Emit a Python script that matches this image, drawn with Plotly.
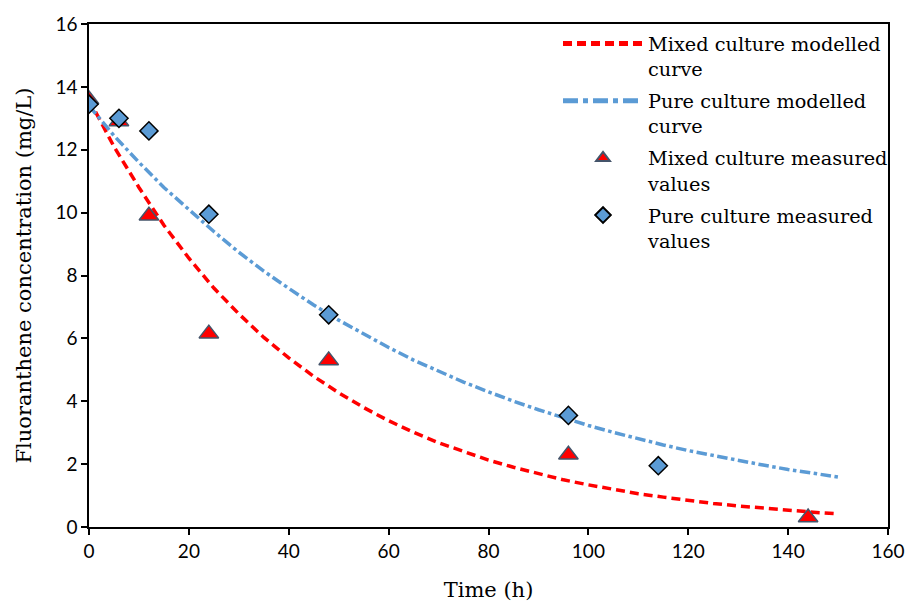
import plotly.graph_objects as go

# Modelled curves
model_time = [0, 5, 10, 15, 20, 25, 30, 35, 40, 45, 50, 55, 60, 65, 70, 75, 80, 85, 90,
              95, 100, 105, 110, 115, 120, 125, 130, 135, 140, 145, 150]
mixed_model = [13.6, 12.1, 10.8, 9.6, 8.55, 7.6, 6.78, 6.03, 5.38, 4.79, 4.27, 3.8, 3.38,
               3.01, 2.68, 2.39, 2.13, 1.9, 1.69, 1.5, 1.34, 1.19, 1.06, 0.95, 0.84,
               0.75, 0.67, 0.6, 0.53, 0.47, 0.42]
pure_model = [13.4, 12.45, 11.6, 10.8, 10.1, 9.4, 8.74, 8.14, 7.59, 7.06, 6.58, 6.13, 5.71,
              5.31, 4.95, 4.61, 4.3, 4.0, 3.73, 3.47, 3.23, 3.01, 2.8, 2.61, 2.43,
              2.27, 2.11, 1.97, 1.83, 1.71, 1.59]

# Measured values
mixed_time = [0, 6, 12, 24, 48, 96, 144]
mixed_meas = [13.6, 12.9, 9.9, 6.15, 5.3, 2.3, 0.3]
pure_time = [0, 6, 12, 24, 48, 96, 114]
pure_meas = [13.45, 13.0, 12.6, 9.95, 6.75, 3.55, 1.95]

names = ["Mixed culture modelled<br>curve", "Pure culture modelled<br>curve",
         "Mixed culture measured<br>values", "Pure culture measured<br>values"]

x_ticks = [0, 20, 40, 60, 80, 100, 120, 140, 160]
y_ticks = [0, 2, 4, 6, 8, 10, 12, 14, 16]

RED = "#FF0000"
BLUE = "#5B9BD5"
SERIF = "DejaVu Serif"

fig = go.Figure()
fig.add_trace(go.Scatter(x=model_time, y=mixed_model, mode="lines", name=names[0],
                         legendgroup="g1",
                         line=dict(color=RED, width=3.5, dash="9px,5px")))
fig.add_trace(go.Scatter(x=model_time, y=pure_model, mode="lines", name=names[1],
                         legendgroup="g2",
                         line=dict(color=BLUE, width=3.5, dash="dashdot")))
fig.add_trace(go.Scatter(x=mixed_time, y=mixed_meas, mode="markers", name=names[2],
                         legendgroup="g3",
                         marker=dict(symbol="triangle-up", size=17, color=RED,
                                     line=dict(color="#44546A", width=1.5))))
fig.add_trace(go.Scatter(x=pure_time, y=pure_meas, mode="markers", name=names[3],
                         legendgroup="g4",
                         marker=dict(symbol="diamond", size=14, color=BLUE,
                                     line=dict(color="black", width=1.5))))

tick_font = dict(family="Lato", size=19, color="black")
fig.update_layout(
    width=917, height=610,
    margin=dict(l=89, r=22, t=18, b=80),
    plot_bgcolor="white", paper_bgcolor="white",
    font=dict(family=SERIF, size=19, color="black"),
    showlegend=True,
    legend=dict(x=0.587, y=0.999, xanchor="left", yanchor="top", valign="top",
                bgcolor="rgba(0,0,0,0)", itemwidth=80, tracegroupgap=4,
                itemsizing="constant",
                font=dict(family=SERIF, size=19.3, color="black")),
    xaxis=dict(range=[0, 160], tickvals=x_ticks, ticks="outside", ticklen=6,
               tickwidth=1.5, tickcolor="black", showline=True, linecolor="black",
               linewidth=1.5, mirror=True, showgrid=False, zeroline=False,
               tickfont=tick_font,
               title=dict(text="Time (h)", font=dict(family=SERIF, size=21, color="black"),
                          standoff=22)),
    yaxis=dict(range=[0, 16], tickvals=y_ticks, ticks="outside", ticklen=6,
               tickwidth=1.5, tickcolor="black", showline=True, linecolor="black",
               linewidth=1.5, mirror=True, showgrid=False, zeroline=False,
               tickfont=tick_font,
               title=dict(text="Fluoranthene concentration (mg/L)",
                          font=dict(family=SERIF, size=21, color="black"),
                          standoff=18)),
)
fig.write_html("out.html")
